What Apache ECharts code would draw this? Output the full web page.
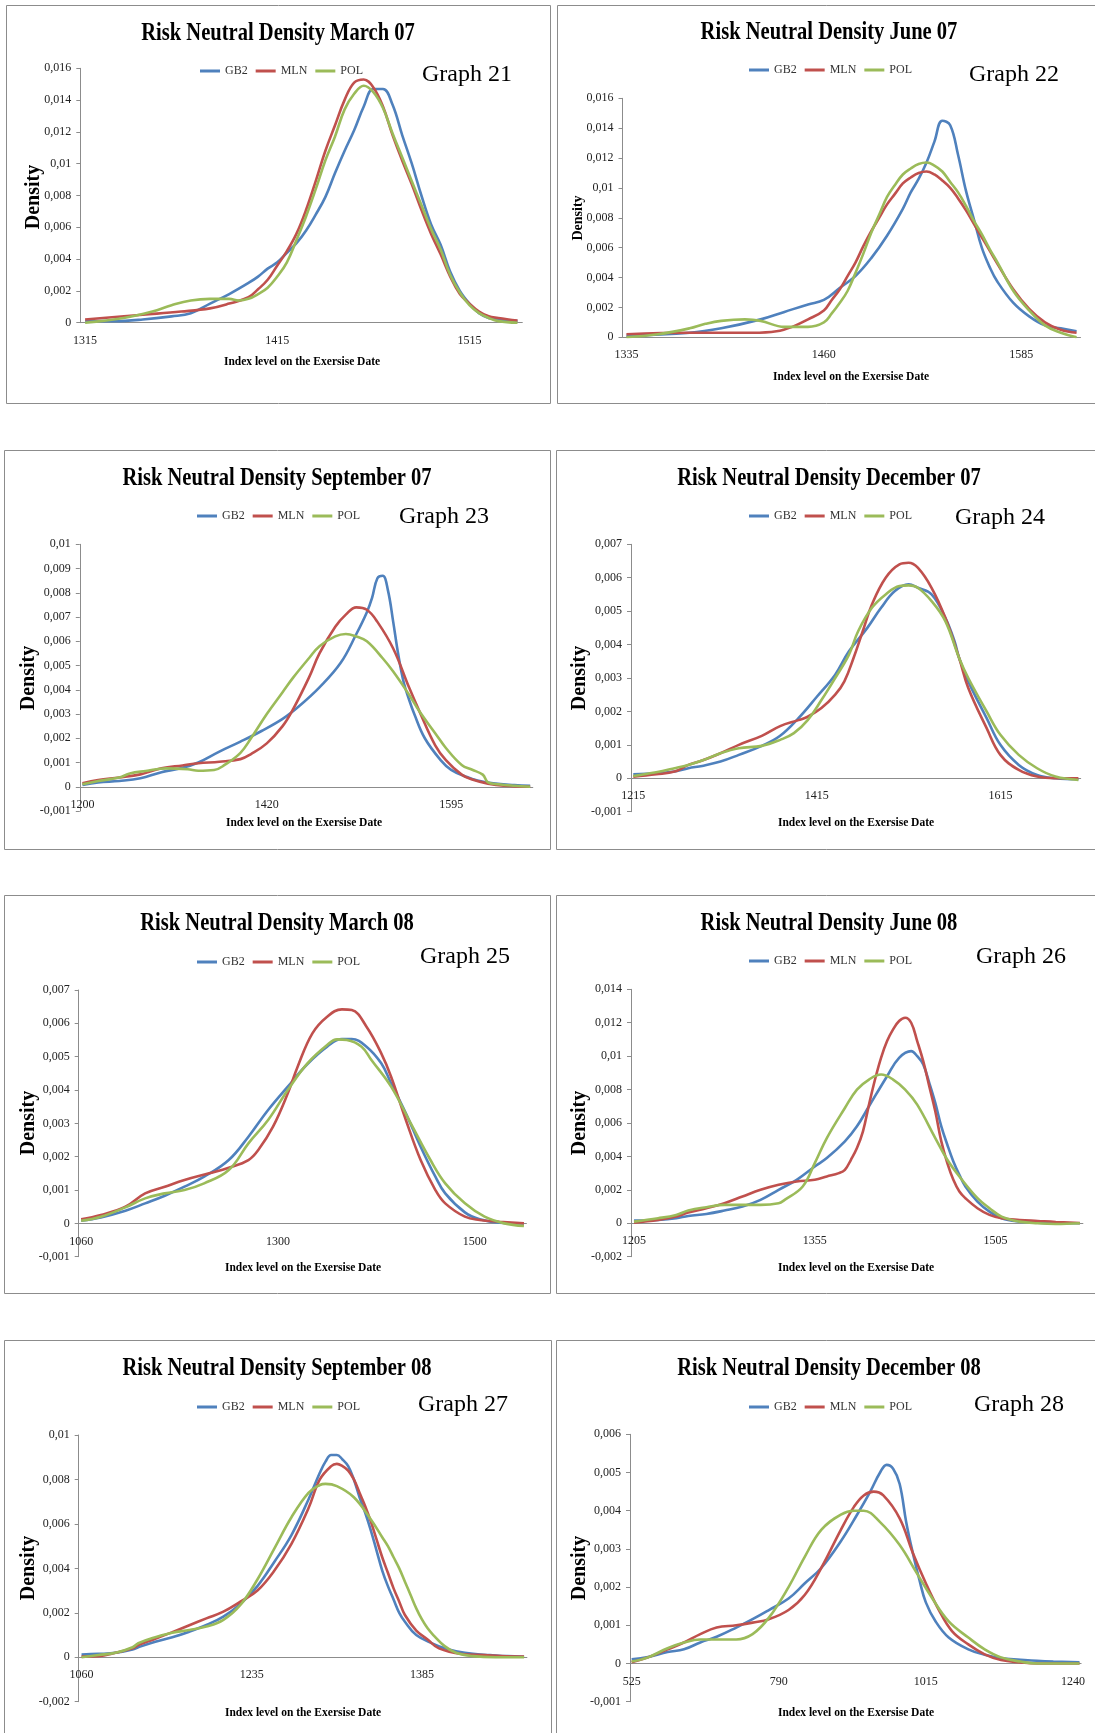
<!DOCTYPE html>
<html>
<head>
<meta charset="utf-8">
<title>Risk Neutral Densities</title>
<script src="https://cdn.jsdelivr.net/npm/echarts@6/dist/echarts.min.js"></script>
<style>
  html, body { margin: 0; padding: 0; background: #fff; }
  #chart { width: 1095px; height: 1733px; }
</style>
</head>
<body>
<div id="chart"></div>
<script>
const MODEL_NAMES = ['GB2', 'MLN', 'POL'];
const MODEL_COLORS = ['#4F81BD', '#C0504D', '#9BBB59'];

// Index levels on an x axis: the first strike, then strikes 5 points apart.
function strikeLevels(first, next, last) {
  const out = [first];
  for (let v = next; v <= last; v += 5) out.push(v);
  return out;
}

// ---- March 07 ----
const levelsMar07 = strikeLevels(1315, 1320, 1540);
const ticksMar07 = [1315, 1415, 1515];
const gb2Mar07 = [[1315,.0001],[1330,.0001],[1345,.0002],[1360,.0004],[1370,.0006],[1380,.0012],[1390,.0018],[1400,.0025],[1405,.0029],[1410,.0034],[1415,.0038],[1420,.0044],[1425,.005],[1430,.0058],[1435,.0068],[1440,.0079],[1445,.0094],[1450,.0108],[1455,.0121],[1460,.0136],[1465,.0147],[1470,.0147],[1475,.0137],[1480,.0118],[1485,.01],[1490,.008],[1495,.0062],[1500,.0049],[1505,.0032],[1510,.002],[1515,.0012],[1520,.0006],[1525,.0003],[1530,.0002],[1540,.0001]];
const mlnMar07 = [[1315,.0002],[1345,.0005],[1365,.0007],[1380,.0009],[1390,.0012],[1400,.0016],[1405,.0021],[1410,.0027],[1415,.0036],[1420,.0045],[1425,.0056],[1430,.0071],[1435,.0089],[1440,.0108],[1445,.0124],[1450,.014],[1455,.0151],[1460,.0153],[1465,.0148],[1470,.0136],[1475,.0118],[1480,.0102],[1485,.0087],[1490,.0071],[1495,.0056],[1500,.0043],[1505,.0029],[1510,.0018],[1515,.0012],[1520,.0007],[1525,.0004],[1530,.0003],[1540,.00013]];
const polMar07 = [[1315,0],[1335,.0003],[1350,.0007],[1360,.0011],[1370,.0014],[1380,.0015],[1390,.0015],[1395,.0014],[1400,.0015],[1405,.0018],[1410,.0022],[1415,.0029],[1420,.0038],[1425,.0052],[1430,.0067],[1435,.0084],[1440,.0102],[1445,.0117],[1450,.0134],[1455,.0144],[1460,.0149],[1465,.0145],[1470,.0135],[1475,.0119],[1480,.0104],[1485,.0089],[1490,.0074],[1495,.0059],[1500,.0046],[1505,.003],[1510,.0019],[1515,.0011],[1520,.0006],[1525,.0003],[1530,.0001],[1540,0]];

// ---- June 07 ----
const levelsJun07 = strikeLevels(1335, 1340, 1620);
const ticksJun07 = [1335, 1460, 1585];
const gb2Jun07 = [[1335,.0001],[1375,.0003],[1395,.0006],[1420,.0012],[1435,.0017],[1450,.0022],[1460,.0025],[1470,.0033],[1480,.0041],[1490,.0053],[1500,.0068],[1510,.0086],[1515,.0097],[1520,.0106],[1525,.0117],[1530,.0131],[1535,.0145],[1540,.0142],[1545,.0122],[1550,.0098],[1555,.0079],[1560,.006],[1565,.0047],[1570,.0037],[1580,.0023],[1590,.0014],[1600,.0008],[1610,.0006],[1620,.0004]];
const mlnJun07 = [[1335,.0002],[1375,.0003],[1415,.0003],[1430,.0004],[1440,.0007],[1450,.0012],[1460,.0018],[1465,.0025],[1470,.0032],[1475,.0041],[1480,.005],[1485,.0061],[1490,.0071],[1495,.008],[1500,.0089],[1505,.0096],[1510,.0103],[1515,.0107],[1520,.011],[1525,.0111],[1530,.0109],[1535,.0105],[1540,.01],[1545,.0093],[1550,.0085],[1555,.0076],[1560,.0067],[1565,.0058],[1570,.0049],[1580,.0032],[1590,.0019],[1600,.001],[1610,.0005],[1620,.0003]];
const polJun07 = [[1335,0],[1355,.0002],[1375,.0006],[1385,.0009],[1395,.0011],[1410,.0012],[1420,.0011],[1435,.0007],[1450,.0007],[1460,.001],[1465,.0016],[1470,.0023],[1475,.0031],[1480,.0043],[1485,.0056],[1490,.007],[1495,.0082],[1500,.0094],[1505,.0102],[1510,.0109],[1515,.0113],[1520,.0116],[1525,.0117],[1530,.0115],[1535,.0111],[1540,.0104],[1545,.0097],[1550,.0088],[1555,.0078],[1560,.0069],[1565,.0059],[1570,.005],[1580,.0031],[1590,.0018],[1600,.0008],[1610,.0003],[1620,0]];

// ---- September 07 ----
const levelsSep07 = strikeLevels(1200, 1250, 1670);
const ticksSep07 = [1200, 1420, 1595];
const gb2Sep07 = [[1200,.00007],[1260,.00018],[1280,.00024],[1300,.00035],[1320,.0006],[1340,.00078],[1355,.001],[1375,.00145],[1395,.00186],[1415,.0023],[1435,.0028],[1450,.0033],[1470,.0041],[1490,.0051],[1505,.0063],[1515,.0072],[1520,.0078],[1525,.0086],[1530,.0087],[1535,.0081],[1540,.0068],[1545,.0054],[1550,.0043],[1555,.0036],[1560,.003],[1570,.002],[1585,.0011],[1595,.0007],[1610,.0004],[1620,.00026],[1635,.00014],[1655,.00007],[1670,.00004]];
const mlnSep07 = [[1200,.00014],[1260,.00028],[1280,.00038],[1300,.00051],[1320,.00076],[1340,.00088],[1355,.00097],[1375,.00103],[1395,.00114],[1405,.00135],[1420,.00179],[1435,.0025],[1445,.0032],[1460,.0045],[1470,.0055],[1485,.0066],[1495,.0071],[1505,.0074],[1515,.0073],[1525,.0068],[1540,.0057],[1555,.0041],[1565,.0031],[1580,.0017],[1590,.0011],[1605,.0005],[1615,.0003],[1630,.00013],[1645,.00004],[1670,0]];
const polSep07 = [[1200,.0001],[1260,.00024],[1280,.00038],[1290,.00055],[1305,.00065],[1325,.00076],[1345,.00072],[1355,.00066],[1370,.00069],[1380,.0009],[1395,.0014],[1405,.002],[1420,.003],[1435,.0039],[1445,.0045],[1460,.0053],[1470,.0058],[1485,.0062],[1495,.0063],[1505,.0062],[1515,.006],[1530,.0053],[1540,.00475],[1555,.0038],[1565,.0031],[1580,.0022],[1590,.0016],[1605,.0009],[1615,.0007],[1625,.0005],[1630,.00018],[1640,.0001],[1655,.00004],[1670,0]];

// ---- December 07 ----
const levelsDec07 = strikeLevels(1215, 1220, 1700);
const ticksDec07 = [1215, 1415, 1615];
const gb2Dec07 = [[1215,.00012],[1240,.00015],[1260,.0002],[1275,.0003],[1290,.00037],[1310,.0005],[1330,.0007],[1355,.00097],[1375,.00127],[1395,.0018],[1415,.00244],[1435,.0031],[1450,.0038],[1470,.0045],[1485,.0051],[1500,.0056],[1515,.0058],[1525,.0057],[1540,.0055],[1555,.0048],[1565,.0041],[1570,.0036],[1580,.0029],[1600,.0018],[1615,.001],[1635,.0004],[1655,.0001],[1675,0],[1700,-.00003]];
const mlnDec07 = [[1215,.00005],[1240,.00012],[1260,.0002],[1275,.0004],[1290,.00053],[1310,.00075],[1330,.001],[1355,.00127],[1375,.00156],[1395,.00174],[1405,.00184],[1420,.0021],[1435,.0025],[1445,.0029],[1455,.0036],[1465,.0044],[1475,.0052],[1490,.006],[1505,.0064],[1515,.00645],[1525,.0063],[1540,.0057],[1555,.0048],[1570,.0036],[1580,.0027],[1600,.0015],[1615,.0007],[1635,.00025],[1655,.00005],[1675,0],[1700,0]];
const polDec07 = [[1215,.00007],[1240,.00018],[1260,.0003],[1275,.0004],[1290,.00053],[1310,.00075],[1330,.0009],[1355,.00097],[1375,.00115],[1390,.00135],[1405,.00174],[1420,.00234],[1435,.003],[1450,.0037],[1460,.0044],[1475,.0051],[1490,.0055],[1505,.00575],[1515,.00577],[1525,.0057],[1540,.0053],[1555,.0047],[1570,.0036],[1580,.003],[1600,.002],[1615,.0013],[1635,.0007],[1655,.0003],[1675,.00005],[1700,-.00005]];

// ---- March 08 ----
const levelsMar08 = strikeLevels(1060, 1105, 1550);
const ticksMar08 = [1060, 1300, 1500];
const gb2Mar08 = [[1060,.00008],[1120,.00018],[1145,.00038],[1165,.0006],[1185,.00083],[1205,.0011],[1225,.0014],[1250,.0019],[1270,.0026],[1290,.0034],[1310,.0041],[1330,.00478],[1350,.0053],[1365,.00553],[1375,.00553],[1390,.0053],[1405,.0048],[1415,.0042],[1430,.0033],[1445,.0023],[1460,.0014],[1470,.0009],[1490,.00033],[1505,.00012],[1525,.00002],[1550,0]];
const mlnMar08 = [[1060,.00012],[1120,.00025],[1145,.0005],[1165,.0009],[1185,.0011],[1205,.0013],[1230,.0015],[1250,.00167],[1270,.0019],[1280,.0022],[1295,.0029],[1310,.0039],[1320,.0047],[1335,.0057],[1350,.0062],[1365,.00642],[1375,.0064],[1390,.0059],[1405,.0051],[1415,.0044],[1430,.0031],[1445,.0019],[1460,.001],[1470,.0006],[1490,.0002],[1505,.0001],[1525,.00005],[1550,0]];
const polMar08 = [[1060,.00008],[1120,.0002],[1145,.00048],[1165,.00075],[1185,.0009],[1205,.001],[1225,.0012],[1250,.0016],[1270,.0024],[1290,.0031],[1310,.004],[1330,.0048],[1350,.00535],[1360,.00552],[1370,.0055],[1385,.0053],[1395,.0049],[1415,.0041],[1435,.003],[1455,.0019],[1470,.0012],[1490,.0006],[1510,.0002],[1530,0],[1550,-.00008]];

// ---- June 08 ----
const levelsJun08 = strikeLevels(1205, 1210, 1575);
const ticksJun08 = [1205, 1355, 1505];
const gb2Jun08 = [[1205,.00016],[1225,.0002],[1240,.0003],[1250,.00044],[1265,.00056],[1280,.00076],[1295,.001],[1310,.0014],[1325,.002],[1340,.0026],[1355,.0034],[1365,.0039],[1380,.0049],[1390,.0058],[1400,.007],[1415,.0088],[1425,.0099],[1435,.0103],[1440,.01],[1445,.0095],[1450,.0084],[1455,.0072],[1460,.0058],[1465,.0047],[1470,.0037],[1475,.0029],[1480,.0022],[1490,.0013],[1500,.0007],[1510,.0003],[1525,.0001],[1540,.00004],[1555,0],[1575,0]];
const mlnJun08 = [[1205,.00004],[1225,.0002],[1240,.0004],[1250,.00064],[1265,.0009],[1280,.0012],[1295,.0016],[1310,.002],[1325,.0023],[1340,.0025],[1355,.0026],[1365,.0028],[1375,.003],[1380,.0032],[1385,.0038],[1390,.0045],[1395,.0055],[1400,.0071],[1405,.0086],[1410,.0099],[1415,.0109],[1420,.0116],[1425,.0121],[1430,.0123],[1435,.012],[1440,.0109],[1445,.0097],[1450,.0082],[1455,.0067],[1460,.0049],[1465,.0036],[1470,.0026],[1475,.0019],[1480,.0015],[1490,.0009],[1500,.0005],[1510,.0003],[1525,.0002],[1540,.00014],[1555,.00008],[1575,.00002]];
const polJun08 = [[1205,.0001],[1225,.0003],[1240,.0005],[1250,.00076],[1265,.00096],[1280,.0011],[1295,.0011],[1310,.0011],[1325,.0012],[1330,.0014],[1345,.0022],[1355,.0036],[1365,.0051],[1380,.0069],[1390,.008],[1400,.0086],[1410,.0089],[1420,.0086],[1430,.008],[1440,.0071],[1455,.0051],[1465,.0038],[1475,.0028],[1490,.0015],[1500,.0009],[1510,.0004],[1525,.0001],[1540,0],[1555,-.00004],[1575,0]];

// ---- September 08 ----
const levelsSep08 = strikeLevels(1060, 1090, 1475);
const ticksSep08 = [1060, 1235, 1385];
const gb2Sep08 = [[1060,.00012],[1100,.00015],[1115,.0002],[1130,.00035],[1135,.00045],[1150,.0007],[1165,.0009],[1180,.00115],[1195,.00145],[1210,.00183],[1225,.0024],[1240,.0032],[1255,.0043],[1270,.0055],[1285,.0071],[1295,.0083],[1300,.0088],[1305,.0091],[1310,.0091],[1315,.0089],[1320,.0086],[1325,.008],[1330,.0072],[1335,.0065],[1340,.0057],[1345,.0048],[1350,.0039],[1355,.0032],[1360,.0026],[1365,.002],[1370,.0016],[1380,.001],[1395,.0006],[1405,.0004],[1415,.00027],[1430,.00015],[1445,.0001],[1460,.00005],[1475,.00002]];
const mlnSep08 = [[1060,.00003],[1100,.00005],[1115,.0002],[1130,.0004],[1135,.00055],[1150,.00083],[1165,.00113],[1180,.00144],[1195,.00175],[1210,.00205],[1225,.0025],[1240,.003],[1255,.0039],[1270,.0051],[1285,.0067],[1295,.008],[1305,.0086],[1310,.0087],[1315,.0086],[1320,.0084],[1325,.008],[1330,.0074],[1335,.0068],[1340,.0061],[1345,.0053],[1350,.0045],[1355,.0038],[1360,.0031],[1365,.0025],[1370,.0019],[1380,.0012],[1390,.0008],[1400,.0004],[1420,.00015],[1440,.0001],[1455,.00005],[1475,.00003]];
const polSep08 = [[1060,0],[1100,.0001],[1115,.0002],[1130,.00045],[1135,.00063],[1150,.0009],[1165,.0011],[1180,.00123],[1195,.00138],[1210,.00168],[1225,.00235],[1240,.0035],[1255,.0049],[1270,.0063],[1285,.0074],[1295,.00775],[1300,.0078],[1310,.0077],[1325,.0072],[1340,.0062],[1350,.0054],[1355,.005],[1360,.0045],[1365,.004],[1370,.0034],[1375,.0028],[1380,.0022],[1385,.0017],[1390,.0013],[1395,.001],[1405,.0005],[1415,.0002],[1430,.00005],[1450,0],[1475,0]];

// ---- December 08 ----
const levelsDec08 = strikeLevels(525, 570, 1250);
const ticksDec08 = [525, 790, 1015, 1240];
const gb2Dec08 = [[525,.00011],[590,.00017],[620,.0003],[645,.00037],[670,.00055],[695,.0007],[725,.00094],[750,.00116],[775,.0014],[805,.0017],[830,.0021],[855,.0025],[885,.0032],[910,.0039],[930,.0045],[945,.005],[955,.0052],[965,.0051],[975,.0047],[985,.0037],[995,.0029],[1005,.0022],[1015,.0016],[1030,.0011],[1050,.00068],[1080,.00037],[1105,.00023],[1130,.00014],[1160,.0001],[1185,.00007],[1210,.00005],[1250,.00003]];
const mlnDec08 = [[525,.00003],[590,.00016],[620,.00037],[645,.00055],[670,.00077],[695,.00094],[725,.001],[750,.00107],[775,.00116],[805,.0014],[830,.0018],[855,.0025],[885,.0035],[905,.0041],[920,.0044],[935,.0045],[950,.0044],[975,.0038],[995,.0029],[1015,.0021],[1035,.0014],[1055,.00085],[1080,.0005],[1105,.00024],[1130,.00009],[1160,.00003],[1185,0],[1250,0]];
const polDec08 = [[525,.00005],[590,.00016],[620,.0004],[645,.00055],[670,.00063],[695,.00063],[725,.00063],[750,.00077],[775,.0012],[805,.002],[830,.0028],[855,.0035],[885,.0039],[905,.004],[920,.004],[945,.0037],[975,.0031],[1000,.0024],[1025,.0017],[1050,.0011],[1080,.00068],[1105,.00037],[1130,.00016],[1160,.00005],[1185,0],[1250,0]];

// Panel contents and page layout (pixels).
const panels = [
  { title: 'Risk Neutral Density March 07', tag: 'Graph 21', levels: levelsMar07, ticks: ticksMar07, y: [0, 0.016, 0.002],
    series: [gb2Mar07, mlnMar07, polMar07],
    box: [6, 5, 544, 398], plot: [80.3, 68.3, 442, 254.4], titleAt: [278, 33], tagAt: [422, 75], legendAt: [200, 71], densityAt: [34, 197, 20], xTitleAt: [302, 362] },
  { title: 'Risk Neutral Density June 07', tag: 'Graph 22', levels: levelsJun07, ticks: ticksJun07, y: [0, 0.016, 0.002],
    series: [gb2Jun07, mlnJun07, polJun07],
    box: [557, 5, 560, 398], plot: [622.5, 98.3, 458, 239], titleAt: [829, 32], tagAt: [969, 75], legendAt: [749, 70], densityAt: [578, 218, 14], xTitleAt: [851, 377] },
  { title: 'Risk Neutral Density September 07', tag: 'Graph 23', levels: levelsSep07, ticks: ticksSep07, y: [-0.001, 0.01, 0.001],
    series: [gb2Sep07, mlnSep07, polSep07],
    box: [4, 450, 546, 399], plot: [79.8, 544.3, 453, 266.7], titleAt: [277, 478], tagAt: [399, 517], legendAt: [197, 516], densityAt: [29, 678, 20], xTitleAt: [304, 823] },
  { title: 'Risk Neutral Density December 07', tag: 'Graph 24', levels: levelsDec07, ticks: ticksDec07, y: [-0.001, 0.007, 0.001],
    series: [gb2Dec07, mlnDec07, polDec07],
    box: [556, 450, 560, 399], plot: [631, 544.3, 449.7, 267.4], titleAt: [829, 478], tagAt: [955, 518], legendAt: [749, 516], densityAt: [580, 678, 20], xTitleAt: [856, 823] },
  { title: 'Risk Neutral Density March 08', tag: 'Graph 25', levels: levelsMar08, ticks: ticksMar08, y: [-0.001, 0.007, 0.001],
    series: [gb2Mar08, mlnMar08, polMar08],
    box: [4, 895, 546, 398], plot: [78.7, 990, 447.7, 266.7], titleAt: [277, 923], tagAt: [420, 957], legendAt: [197, 962], densityAt: [29, 1123, 20], xTitleAt: [303, 1268] },
  { title: 'Risk Neutral Density June 08', tag: 'Graph 26', levels: levelsJun08, ticks: ticksJun08, y: [-0.002, 0.014, 0.002],
    series: [gb2Jun08, mlnJun08, polJun08],
    box: [556, 895, 560, 398], plot: [631, 989.3, 451.9, 267.4], titleAt: [829, 923], tagAt: [976, 957], legendAt: [749, 961], densityAt: [580, 1123, 20], xTitleAt: [856, 1268] },
  { title: 'Risk Neutral Density September 08', tag: 'Graph 27', levels: levelsSep08, ticks: ticksSep08, y: [-0.002, 0.01, 0.002],
    series: [gb2Sep08, mlnSep08, polSep08],
    box: [4, 1340, 547, 420], plot: [78.7, 1435, 448.2, 266.7], titleAt: [277, 1368], tagAt: [418, 1405], legendAt: [197, 1407], densityAt: [29, 1568, 20], xTitleAt: [303, 1713] },
  { title: 'Risk Neutral Density December 08', tag: 'Graph 28', levels: levelsDec08, ticks: ticksDec08, y: [-0.001, 0.006, 0.001],
    series: [gb2Dec08, mlnDec08, polDec08],
    box: [556, 1340, 560, 420], plot: [630, 1434.3, 451.1, 267.4], titleAt: [829, 1368], tagAt: [974, 1405], legendAt: [749, 1407], densityAt: [580, 1568, 20], xTitleAt: [856, 1713] }
];

const SERIF = '"Liberation Serif", "Times New Roman", serif';
const AXIS_GRAY = '#8c8c8c';

function densityLabel(v) {
  const r = Math.round(v * 1e6) / 1e6;
  return r === 0 ? '0' : String(r).replace('.', ',');
}

function textEl(x, y, text, font, align, extra) {
  return Object.assign({
    type: 'text', x: x, y: y, silent: true,
    style: { text: text, font: font, fill: '#000', textAlign: align, textVerticalAlign: 'middle', align: align, verticalAlign: 'middle' }
  }, extra || {});
}

const grids = [], xAxes = [], yAxes = [], legends = [], series = [], graphics = [];

panels.forEach(function (p, i) {
  graphics.push({
    type: 'rect', silent: true, z: -1,
    shape: { x: p.box[0] + 0.5, y: p.box[1] + 0.5, width: p.box[2], height: p.box[3] },
    style: { fill: 'none', stroke: AXIS_GRAY, lineWidth: 1 }
  });
  graphics.push(textEl(p.titleAt[0], p.titleAt[1], p.title, 'bold 26px ' + SERIF, 'center', { scaleX: 0.79 }));
  graphics.push(textEl(p.tagAt[0], p.tagAt[1], p.tag, '24px ' + SERIF, 'left'));
  graphics.push(textEl(p.densityAt[0], p.densityAt[1], 'Density', 'bold ' + p.densityAt[2] + 'px ' + SERIF, 'center', { rotation: Math.PI / 2 }));
  graphics.push(textEl(p.xTitleAt[0], p.xTitleAt[1], 'Index level on the Exersise Date', 'bold 11.5px ' + SERIF, 'center'));

  grids.push({ left: p.plot[0], top: p.plot[1], width: p.plot[2], height: p.plot[3] });

  // The category axis sits on the zero density line, with its labels just below it.
  const zeroLift = p.plot[3] * (0 - p.y[0]) / (p.y[1] - p.y[0]);
  const tickSet = p.ticks.map(String);
  xAxes.push({
    type: 'category', gridIndex: i, data: p.levels.map(String), boundaryGap: true,
    position: 'bottom', offset: -zeroLift,
    axisLine: { onZero: false, lineStyle: { color: AXIS_GRAY, width: 1 } },
    axisTick: { show: false },
    splitLine: { show: false },
    axisLabel: {
      interval: function (idx, val) { return tickSet.indexOf(String(val)) >= 0; },
      margin: 12, fontFamily: SERIF, fontSize: 12, color: '#222'
    }
  });
  yAxes.push({
    type: 'value', gridIndex: i, min: p.y[0], max: p.y[1], interval: p.y[2],
    axisLine: { show: true, lineStyle: { color: AXIS_GRAY, width: 1 } },
    axisTick: { show: true, length: 4, lineStyle: { color: AXIS_GRAY } },
    splitLine: { show: false },
    axisLabel: { formatter: densityLabel, margin: 9, fontFamily: SERIF, fontSize: 12, color: '#222' }
  });
  legends.push({
    data: MODEL_NAMES, left: p.legendAt[0], top: p.legendAt[1] - 6, padding: 0,
    icon: 'rect', itemWidth: 20, itemHeight: 3, itemGap: 8, selectedMode: false,
    textStyle: { fontFamily: SERIF, fontSize: 12, color: '#333' }
  });
  p.series.forEach(function (pts, k) {
    series.push({
      type: 'line', name: MODEL_NAMES[k], xAxisIndex: i, yAxisIndex: i,
      data: pts.map(function (d) { return [p.levels.indexOf(d[0]), d[1]]; }),
      smooth: 0.4, symbol: 'none', showSymbol: false,
      lineStyle: { width: 2.6, color: MODEL_COLORS[k] },
      itemStyle: { color: MODEL_COLORS[k] }
    });
  });
});

const chart = echarts.init(document.getElementById('chart'), null, { renderer: 'canvas' });
chart.setOption({
  animation: false,
  backgroundColor: '#ffffff',
  grid: grids,
  xAxis: xAxes,
  yAxis: yAxes,
  legend: legends,
  series: series,
  graphic: graphics
});
</script>
</body>
</html>
